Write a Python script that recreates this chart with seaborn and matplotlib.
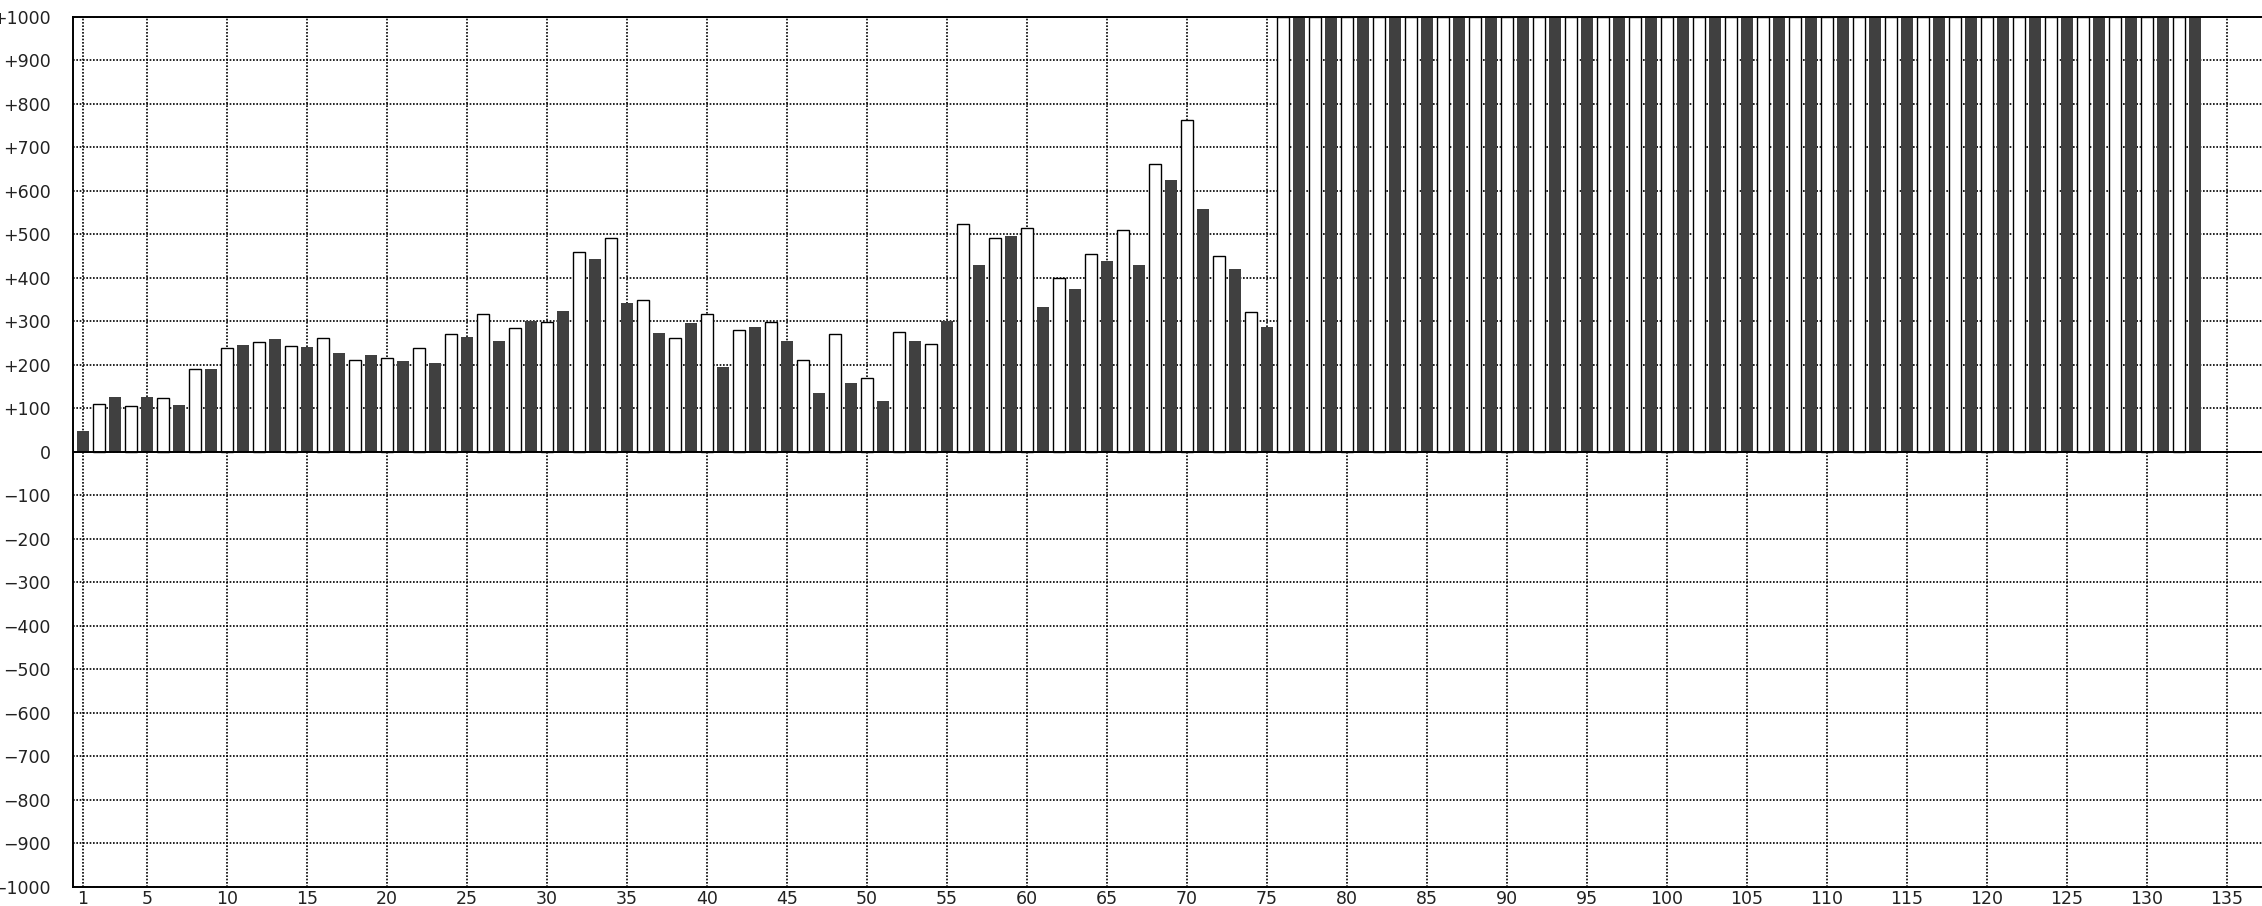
import matplotlib
matplotlib.use("Agg")
import matplotlib.pyplot as plt
import seaborn as sns
import pandas as pd

# values per round (bars from 76 on are off the top)
positions = list(range(1, 134))
scores = [
    48, 109, 126, 106, 126, 124, 108, 189, 190, 239,
    246, 253, 260, 243, 241, 262, 227, 211, 223, 216,
    209, 239, 204, 270, 264, 316, 255, 284, 301, 298,
    324, 459, 444, 491, 342, 349, 273, 261, 296, 316,
    195, 280, 287, 298, 255, 210, 135, 270, 158, 169,
    117, 275, 255, 247, 301, 524, 430, 491, 495, 515,
    333, 399, 375, 455, 439, 510, 430, 662, 624, 763,
    559, 450, 421, 321, 287, 1000, 1000, 1000, 1000, 1000,
    1000, 1000, 1000, 1000, 1000, 1000, 1000, 1000, 1000, 1000,
    1000, 1000, 1000, 1000, 1000, 1000, 1000, 1000, 1000, 1000,
    1000, 1000, 1000, 1000, 1000, 1000, 1000, 1000, 1000, 1000,
    1000, 1000, 1000, 1000, 1000, 1000, 1000, 1000, 1000, 1000,
    1000, 1000, 1000, 1000, 1000, 1000, 1000, 1000, 1000, 1000,
    1000, 1000, 1000,
]

x_ticks = [1, 5, 10, 15, 20, 25, 30, 35, 40, 45, 50, 55, 60, 65, 70, 75, 80,
           85, 90, 95, 100, 105, 110, 115, 120, 125, 130, 135]
y_ticks = [-1000, -900, -800, -700, -600, -500, -400, -300, -200, -100, 0,
           100, 200, 300, 400, 500, 600, 700, 800, 900, 1000]
y_labels = ["\u22121000", "\u2212900", "\u2212800", "\u2212700", "\u2212600",
            "\u2212500", "\u2212400", "\u2212300", "\u2212200", "\u2212100", "0",
            "+100", "+200", "+300", "+400", "+500", "+600", "+700", "+800",
            "+900", "+1000"]

df = pd.DataFrame({"pos": positions, "score": scores})
df["shade"] = ["dark" if p % 2 else "light" for p in df["pos"]]

sns.set_style("white")
plt.rcParams["font.family"] = ["DejaVu Sans"]
plt.rcParams["font.size"] = 12.5

fig = plt.figure(figsize=(22.62, 9.06), dpi=100)
ax = fig.add_axes([72.7 / 2262, 1 - 886.7 / 906, 1 - 72.7 / 2262, (886.7 - 16.7) / 906])

sns.barplot(data=df, x="pos", y="score", hue="shade", native_scale=True,
            dodge=False, palette={"dark": "#404040", "light": "white"},
            saturation=1, width=0.75, errorbar=None, legend=False,
            edgecolor="black", linewidth=1.0, ax=ax)

# dark bars have no outline
for p in ax.patches:
    if p.get_facecolor()[0] < 0.5:
        p.set_linewidth(0)

ax.set_xlim(0.356, 137.19)
ax.set_ylim(-1000, 1000)
ax.set_xticks(x_ticks)
ax.set_xticklabels([str(t) for t in x_ticks])
ax.set_yticks(y_ticks)
ax.set_yticklabels(y_labels)
ax.tick_params(axis="both", length=0, labelsize=12.5, colors="#222222")
ax.tick_params(axis="y", pad=16)
ax.tick_params(axis="x", pad=2.5)

ax.set_axisbelow(True)
ax.grid(True, color="black", linestyle=(0, (1, 1)), linewidth=1.2)
ax.axhline(0, color="black", linewidth=1.4, zorder=3)

for side in ["left", "bottom", "top"]:
    ax.spines[side].set_visible(True)
    ax.spines[side].set_color("black")
    ax.spines[side].set_linewidth(1.4)
ax.spines["right"].set_visible(False)

ax.set_xlabel("")
ax.set_ylabel("")

fig.savefig("out.png", dpi=100)
